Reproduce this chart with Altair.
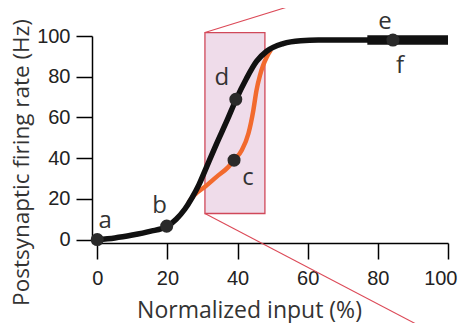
import altair as alt
import pandas as pd

# ---- data ----
black_x = [0, 5, 10, 15, 20, 22.5, 25, 27, 29, 31, 34, 37, 39.5, 42.5, 45.4, 48.3, 53, 58, 63, 70, 77, 85, 100]
black_y = [0, 0.8, 2.2, 4.0, 6.6, 10, 15, 20.5, 27, 35, 47, 58.5, 68.5, 79, 87.5, 92.5, 96.3, 97.7, 98, 98, 98, 98, 98]
orange_x = [26, 27.5, 30.7, 34, 37.4, 39, 41.2, 43.1, 44.5, 45.4, 46.4, 47.3, 48.3, 49.5]
orange_y = [18, 21.5, 25.9, 30.8, 35.7, 39, 43.9, 52.1, 63.5, 73.3, 80.7, 85.6, 89.6, 93.2]
point_names = ["a", "b", "c", "d", "e"]
point_x = [0, 19.8, 39, 39.5, 84.3]
point_y = [0, 6.6, 39, 68.9, 98]
label_text = ["a", "b", "c", "d", "e", "f"]
label_point = ["a", "b", "c", "d", "e", "e"]
box_x = [30.7, 47.8]
box_y = [12.8, 101.7]
zoom_end_x = [60.1, 94.0]   # upper line, lower line
zoom_end_y = [117.4, -44.3]
x_ticks = [0, 20, 40, 60, 80, 100]
y_ticks = [0, 20, 40, 60, 80, 100]
thick_from = 77

# label offsets in pixels (style)
label_offsets = {"a": (8, -11.5), "b": (-7, -13), "c": (14, 25),
                 "d": (-14, -14), "e": (-8, -11.5), "f": (7, 32.5)}

black_df = pd.DataFrame({"x": black_x, "y": black_y})
thick_df = black_df[black_df["x"] >= thick_from]
orange_df = pd.DataFrame({"x": orange_x, "y": orange_y})
pts_df = pd.DataFrame({"name": point_names, "x": point_x, "y": point_y})
box_df = pd.DataFrame({"x": [box_x[0]], "x2": [box_x[1]], "y": [box_y[0]], "y2": [box_y[1]]})
zoom_df = pd.DataFrame({"x": [box_x[0], box_x[0]], "y": [box_y[1], box_y[0]],
                        "x2": zoom_end_x, "y2": zoom_end_y})

xscale = alt.Scale(domain=[-1.5, 100], nice=False, zero=False)
yscale = alt.Scale(domain=[-1.7, 100], nice=False, zero=False)

xaxis = alt.Axis(values=x_ticks, grid=False, domainColor="black", domainWidth=1.5,
                 tickColor="black", tickWidth=1.5, tickSize=16,
                 labelFont="Liberation Sans", labelFontSize=20, labelColor="#222",
                 labelPadding=9, labelFlush=True, labelFlushOffset=9, labelOverlap=False,
                 titleFont="Open Sans", titleFontSize=23, titleFontWeight="normal",
                 titleColor="#333", titleX=157, titleY=74, titleAlign="center",
                 titleBaseline="alphabetic")
yaxis = alt.Axis(values=y_ticks, grid=False, domainColor="black", domainWidth=1.5,
                 tickColor="black", tickWidth=1.5, tickSize=16,
                 labelFont="Liberation Sans", labelFontSize=20, labelColor="#222",
                 labelPadding=6, labelFlush=False, labelOverlap=False,
                 titleFont="Open Sans", titleFontSize=22.5, titleFontWeight="normal",
                 titleColor="#333", titleX=-63.6, titleY=126, titleAlign="center",
                 titleBaseline="alphabetic", titleAngle=270)

X = alt.X("x:Q", scale=xscale, axis=xaxis, title="Normalized input (%)")
Y = alt.Y("y:Q", scale=yscale, axis=yaxis, title="Postsynaptic firing rate (Hz)")

box = alt.Chart(box_df).mark_rect(fill="#efdcea", stroke="#d0485a", strokeWidth=1.3).encode(
    x=X, x2="x2:Q", y=Y, y2="y2:Q")
zoom = alt.Chart(zoom_df).mark_rule(color="#dc4a58", strokeWidth=1.1).encode(
    x=X, x2="x2:Q", y=Y, y2="y2:Q")
orange = alt.Chart(orange_df).mark_line(color="#f26a2e", strokeWidth=4.5,
                                        interpolate="monotone").encode(x=X, y=Y)
black = alt.Chart(black_df).mark_line(color="#111111", strokeWidth=5.5,
                                      interpolate="monotone", strokeCap="butt").encode(x=X, y=Y)
thick = alt.Chart(thick_df).mark_line(color="#111111", strokeWidth=9.5,
                                      strokeCap="butt").encode(x=X, y=Y)
pts = alt.Chart(pts_df).mark_circle(color="#2a2a2a", opacity=1, size=170).encode(x=X, y=Y)

layers = [box, zoom, orange, black, thick, pts]
for txt, pname in zip(label_text, label_point):
    dx, dy = label_offsets[txt]
    d = pts_df[pts_df["name"] == pname].assign(label=txt)
    layers.append(
        alt.Chart(d).mark_text(font="Open Sans", fontSize=24, color="#333",
                               align="center", baseline="alphabetic", dx=dx, dy=dy)
        .encode(x=X, y=Y, text="label:N"))

chart = alt.layer(*layers).properties(
    width=356, height=207,
    autosize=alt.AutoSizeParams(type="none"),
    padding={"left": 84, "top": 28, "right": 10, "bottom": 80},
).configure_view(stroke=None)

chart.save("out.html", embed_options={"renderer": "svg", "actions": False})
